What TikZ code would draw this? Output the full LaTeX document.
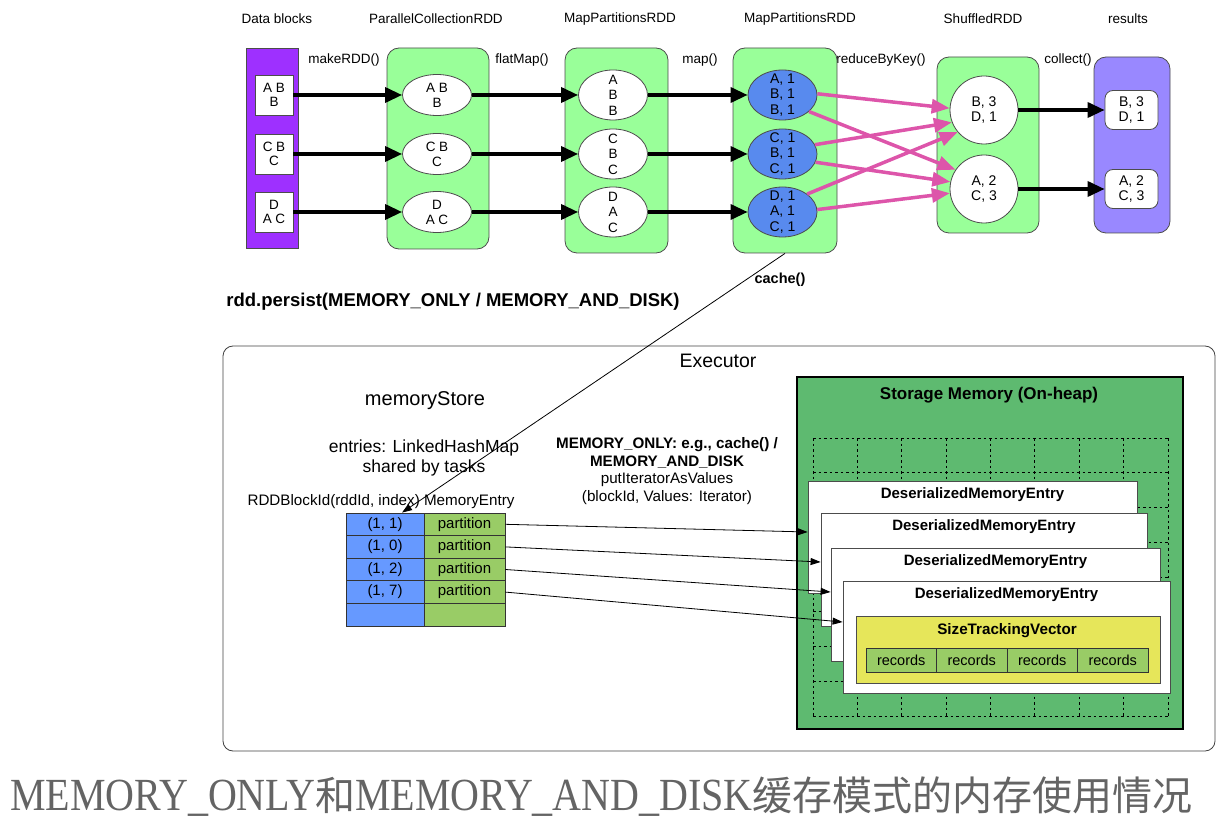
\documentclass[tikz,border=0pt]{standalone}
\usepackage{fontspec}
\setmainfont{Liberation Sans}
\newfontfamily\capfont{Liberation Serif}
\newfontfamily\cjk{Noto Sans CJK SC}
\usetikzlibrary{arrows.meta,shapes.geometric}

\definecolor{dbpurple}{RGB}{158,48,255}
\definecolor{rddgreen}{RGB}{153,255,153}
\definecolor{ellblue}{RGB}{88,138,238}
\definecolor{respurple}{RGB}{153,136,255}
\definecolor{shufpink}{RGB}{221,85,170}
\definecolor{keyblue}{RGB}{102,153,255}
\definecolor{valgreen}{RGB}{153,204,102}
\definecolor{storegreen}{RGB}{94,186,112}
\definecolor{vecyellow}{RGB}{230,230,90}
\definecolor{capgray}{RGB}{100,100,100}

\newcommand{\fsz}[2]{\fontsize{#1}{#2}\selectfont}

\begin{document}
\begin{tikzpicture}[x=1pt,y=-1pt,
  txt/.style={inner sep=0pt, font=\fsz{13.5}{15}},
  bx/.style={draw=black!70, line width=0.8pt, inner sep=0pt},
  stage/.style={bx, rounded corners=12pt, fill=rddgreen, minimum width=#1},
  blk/.style={bx, fill=white, minimum width=38, minimum height=40,
    align=center, font=\fsz{13.5}{14}},
  ell/.style={bx, ellipse, fill=white, minimum width=69, minimum height=41,
    align=center, font=\fsz{13.5}{15}},
  bell/.style={bx, ellipse, fill=ellblue, minimum width=69, minimum height=50},
  circ/.style={bx, circle, fill=white, minimum size=68, align=center,
    font=\fsz{14}{15.5}},
  res/.style={bx, rounded corners=8pt, fill=white, minimum width=53,
    minimum height=39, align=center, font=\fsz{14}{15.5}},
  flow/.style={line width=3.5pt, -{Triangle[length=17pt,width=15pt]}},
  shuf/.style={draw=shufpink, line width=3.5pt,
    -{Triangle[length=18pt,width=14pt]}},
  thinarrow/.style={line width=0.8pt, -{Triangle[length=10pt,width=7pt]}},
  cell/.style={bx, draw=black!80, minimum height=22.6, font=\fsz{15}{16}},
  entry/.style={bx, fill=white, minimum width=#1},
  gridline/.style={line width=0.8pt, dash pattern=on 2.5pt off 3pt},
  rec/.style={bx, draw=black!80, fill=valgreen, minimum width=70.5,
    minimum height=24, font=\fsz{14.5}{16}}
]
\useasboundingbox (0,0) rectangle (1228,826);

% ---------- column headings ----------
\node[txt] (h1) at (277,19) {Data blocks};
\node[txt] (h2) at (436,19) {ParallelCollectionRDD};
\node[txt] (h3) at (620,19) {MapPartitionsRDD};
\node[txt] (h4) at (800,19) {MapPartitionsRDD};
\node[txt] (h5) at (983,19) {ShuffledRDD};
\node[txt] (h6) at (1128,19) {results};

% ---------- transformation names ----------
\node[txt] (o1) at (344,60) {makeRDD()};
\node[txt] (o2) at (522,60) {flatMap()};
\node[txt] (o3) at (700,60) {map()};
\node[txt] (o4) at (881,60) {reduceByKey()};
\node[txt] (o5) at (1068,60) {collect()};

% ---------- stage containers ----------
\node[bx, fill=dbpurple, minimum width=52, minimum height=200] (db) at (272,148) {};
\node[stage=102, minimum height=201] (pc) at (438,148.5) {};
\node[stage=103, minimum height=205] (mp1) at (616.5,150.5) {};
\node[stage=104, minimum height=205] (mp2) at (785,150.5) {};
\node[stage=102, minimum height=176] (sh) at (988,145) {};
\node[bx, rounded corners=12pt, fill=respurple, minimum width=76, minimum height=176] (rs) at (1132,145) {};

% ---------- partitions ----------
\node[blk] (b1) at (274,95) {A B\\B};
\node[blk] (b2) at (274,154) {C B\\C};
\node[blk] (b3) at (274,212) {D\\A C};

\node[ell] (p1) at (437,95) {A B\\B};
\node[ell] (p2) at (437,154) {C B\\C};
\node[ell] (p3) at (437,212) {D\\A C};

\node[ell, minimum height=50] (f1) at (613,95) {};
\node[ell, minimum height=50] (f2) at (613,154) {};
\node[ell, minimum height=50] (f3) at (613,212) {};
\node[txt, align=center, font=\fsz{13.5}{15.5}] (f1t) at (f1) {A\\B\\B};
\node[txt, align=center, font=\fsz{13.5}{15.5}] (f2t) at (f2) {C\\B\\C};
\node[txt, align=center, font=\fsz{13.5}{15.5}] (f3t) at (f3) {D\\A\\C};

\node[bell] (m1) at (782.5,95) {};
\node[bell] (m2) at (782.5,154) {};
\node[bell] (m3) at (782.5,212) {};
\node[txt, align=center, font=\fsz{14}{15.5}] (m1t) at (m1) {A, 1\\B, 1\\B, 1};
\node[txt, align=center, font=\fsz{14}{15.5}] (m2t) at (m2) {C, 1\\B, 1\\C, 1};
\node[txt, align=center, font=\fsz{14}{15.5}] (m3t) at (m3) {D, 1\\A, 1\\C, 1};

\node[circ] (s1) at (984,110) {B, 3\\D, 1};
\node[circ] (s2) at (984,189) {A, 2\\C, 3};

\node[res] (r1) at (1131.5,110) {B, 3\\D, 1};
\node[res] (r2) at (1131.5,189) {A, 2\\C, 3};

% ---------- narrow dependencies ----------
\foreach \a/\b in {b1/p1,b2/p2,b3/p3,p1/f1,p2/f2,p3/f3,f1/m1,f2/m2,f3/m3}
  \draw[flow] (\a) -- (\b);
\draw[flow] (s1) -- (r1);
\draw[flow] (s2) -- (r2);

% ---------- shuffle dependencies ----------
\draw[shuf] (m1.2)   -- (s1.177);
\draw[shuf] (m1.-32) -- (s2.146);
\draw[shuf] (m2.16)  -- (s1.201);
\draw[shuf] (m2.-14) -- (s2.168);
\draw[shuf] (m3.36)  -- (s1.220);
\draw[shuf] (m3.4)   -- (s2.187);

% ---------- executor ----------
\node[txt, font=\bfseries\fsz{18.5}{20}] (persist) at (453,302)
  {rdd.persist(MEMORY\_ONLY / MEMORY\_AND\_DISK)};
\node[bx, draw=black!75, rounded corners=10pt, minimum width=992, minimum height=405] (ex) at (719,548.5) {};
\node[txt, font=\fsz{19.5}{21}] (exl) at (718,361) {Executor};
\node[txt, font=\fsz{20}{22}] (ms) at (425,401) {memoryStore};
\node[txt, align=center, font=\fsz{17.5}{20}] (ent) at (424,458) {entries: LinkedHashMap\\shared by tasks};
\node[txt, font=\fsz{15.2}{17}] (cols) at (381,502) {RDDBlockId(rddId, index) MemoryEntry};
\node[txt, align=center, font=\fsz{15.2}{17.6}] (mode) at (667,471)
  {\textbf{MEMORY\_ONLY: e.g., cache() /}\\\textbf{MEMORY\_AND\_DISK}\\putIteratorAsValues\\(blockId, Values: Iterator)};

% hash map entries
\foreach \i/\k/\y in {1/{(1, 1)}/524.3, 2/{(1, 0)}/546.9, 3/{(1, 2)}/569.5, 4/{(1, 7)}/592.1}{
  \node[cell, fill=keyblue, minimum width=78] (k\i) at (385,\y) {\k};
  \node[cell, fill=valgreen, minimum width=81] (v\i) at (464.5,\y) {partition};
}
\node[cell, fill=keyblue, minimum width=78] (k5) at (385,614.7) {};
\node[cell, fill=valgreen, minimum width=81] (v5) at (464.5,614.7) {};

% storage memory
\node[bx, draw=black, line width=2.5pt, fill=storegreen, minimum width=386, minimum height=352] (sm) at (990,553) {};
\node[txt, font=\bfseries\fsz{17}{19}] (smt) at (989,395) {Storage Memory (On-heap)};
\foreach \i in {0,...,8}
  \draw[gridline] ({813+\i*44.375},438) -- ({813+\i*44.375},716);
\foreach \j in {0,...,8}
  \draw[gridline] (813,{438+\j*34.75}) -- (1168,{438+\j*34.75});

\node[entry=329, minimum height=112] (d1) at (972.5,537) {};
\node[entry=326, minimum height=113] (d2) at (984,569.5) {};
\node[entry=329, minimum height=113] (d3) at (995.5,604.5) {};
\node[entry=327, minimum height=112] (d4) at (1006.5,637) {};
\foreach \d in {d1,d2,d3,d4}
  \node[txt, font=\bfseries\fsz{15}{17}] (\d t) at ([yshift=-14pt]\d.north) {DeserializedMemoryEntry};

\node[bx, fill=vecyellow, minimum width=304, minimum height=67] (vec) at (1008,649.5) {};
\node[txt, font=\bfseries\fsz{15.2}{17}] (vect) at (1007,631) {SizeTrackingVector};
\foreach \i/\x in {1/901.25, 2/971.75, 3/1042.25, 4/1112.75}
  \node[rec] (rec\i) at (\x,660) {records};

% cache() link and entry pointers
\draw[thinarrow] (mp2.south) -- ([xshift=17pt]k1.north);
\node[txt, font=\bfseries\fsz{14.5}{16}] (cachel) at (780,280) {cache()};
\draw[thinarrow] (v1.east) -- ([yshift=5pt]d1.west);
\draw[thinarrow] (v2.east) -- ([yshift=7.5pt]d2.west);
\draw[thinarrow] (v3.east) -- ([yshift=12.5pt]d3.west);
\draw[thinarrow] (v4.east) -- ([yshift=15pt]d4.west);

% ---------- caption ----------
\node[inner sep=0pt, anchor=west, text=capgray, font=\fsz{40}{44}] (cap) at (10,797)
  {\capfont\scalebox{1}[1.15]{MEMORY\_ONLY}{\cjk 和}\scalebox{1}[1.15]{MEMORY\_AND\_DISK}{\cjk 缓存模式的内存使用情况}};
\end{tikzpicture}
\end{document}
